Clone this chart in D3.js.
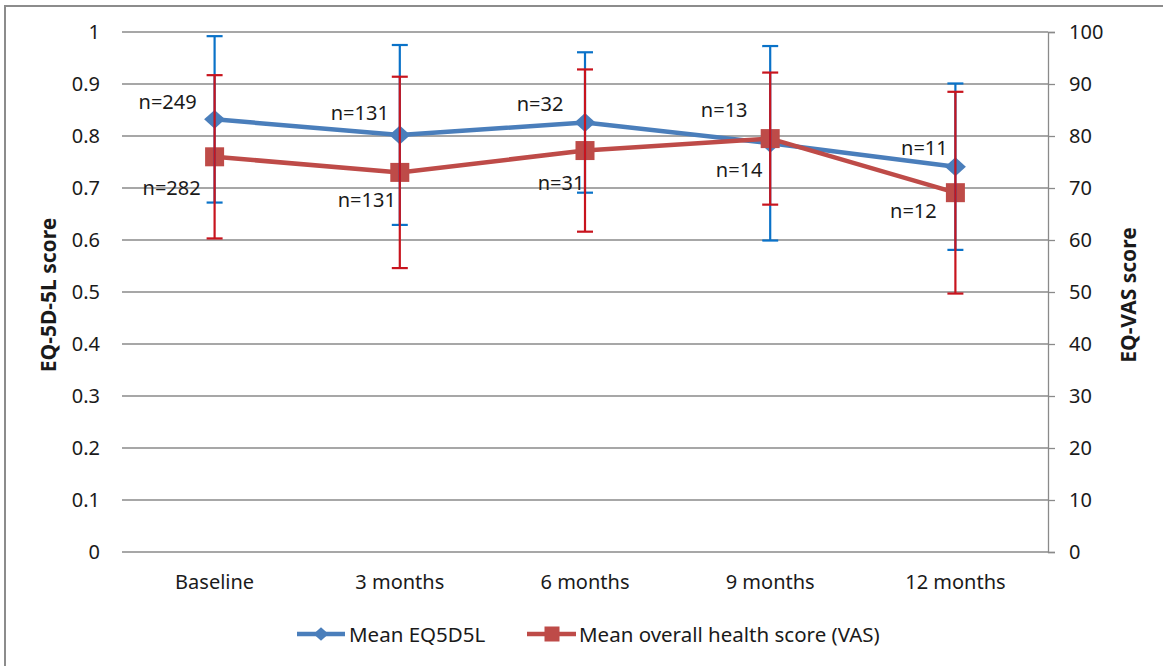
<!DOCTYPE html>
<html><head><meta charset="utf-8">
<script src="https://cdn.jsdelivr.net/npm/d3@7"></script>
<style>
html,body{margin:0;padding:0;background:#fff;}
svg{display:block;font-family:"Noto Sans","Open Sans",sans-serif;}
</style></head>
<body>
<svg id="chart" width="1163" height="666"></svg>
<script>
// ---- data ----
const categories = ["Baseline", "3 months", "6 months", "9 months", "12 months"];
const eqMean = [0.832, 0.802, 0.826, 0.786, 0.741];
const eqErr  = [0.160, 0.173, 0.135, 0.187, 0.160];
const eqN    = ["n=249", "n=131", "n=32", "n=13", "n=11"];
const vasMean = [76.0, 73.0, 77.2, 79.5, 69.1];
const vasErr  = [15.7, 18.4, 15.6, 12.7, 19.4];
const vasN    = ["n=282", "n=131", "n=31", "n=14", "n=12"];
const leftTicks  = [0, 0.1, 0.2, 0.3, 0.4, 0.5, 0.6, 0.7, 0.8, 0.9, 1];
const rightTicks = [0, 10, 20, 30, 40, 50, 60, 70, 80, 90, 100];
const seriesNames = ["Mean EQ5D5L", "Mean overall health score (VAS)"];

// label placement offsets (layout, px relative to point)
const eqLabelOff  = [[-47,-18],[-40,-22],[-45,-19],[-46,-34],[-31,-19]];
const vasLabelOff = [[-43,31],[-33,27],[-24,32],[-31,31],[-42,18]];

// ---- layout ----
const L = 122, R = 1048, T = 32, B = 552;
const blue = "#4a7ebb", red = "#be4b48", blueErr = "#0a72c8", redErr = "#c8141e";
const gridC = "#8a8a8a", txt = "#1a1a1a";

const svg = d3.select("#chart");

// outer frame
svg.append("rect").attr("x",5).attr("y",6).attr("width",1170).attr("height",670)
  .attr("fill","none").attr("stroke","#8c8c8c").attr("stroke-width",2);

const x = d3.scaleBand().domain(categories).range([L, R]).padding(0);
const cx = c => x(c) + x.bandwidth()/2;
const yL = d3.scaleLinear().domain([0,1]).range([B, T]);
const yR = d3.scaleLinear().domain([0,100]).range([B, T]);

// gridlines
svg.append("g").selectAll("line").data(leftTicks).join("line")
  .attr("x1", L).attr("x2", R)
  .attr("y1", d => yL(d)).attr("y2", d => yL(d))
  .attr("stroke", gridC).attr("stroke-width", 1.3);

// left axis
const gL = svg.append("g").attr("transform", `translate(${L},0)`)
  .call(d3.axisLeft(yL).tickValues(leftTicks).tickSize(0).tickPadding(22)
        .tickFormat(d => String(+d.toFixed(1))));
gL.select(".domain").remove();
gL.selectAll("text").attr("font-size", 20).attr("fill", txt)
  .attr("font-family", '"Noto Sans","Open Sans",sans-serif');

// right axis
const gR = svg.append("g").attr("transform", `translate(${R},0)`)
  .call(d3.axisRight(yR).tickValues(rightTicks).tickSize(7).tickSizeOuter(7).tickPadding(14)
        .tickFormat(d3.format("d")));
gR.select(".domain").attr("stroke", gridC).attr("stroke-width", 1.3);
gR.selectAll(".tick line").attr("stroke", gridC).attr("stroke-width", 1.3);
gR.selectAll("text").attr("font-size", 20).attr("fill", txt)
  .attr("font-family", '"Noto Sans","Open Sans",sans-serif');

// x axis labels
const gX = svg.append("g").attr("transform", `translate(0,${B})`)
  .call(d3.axisBottom(x).tickSize(0).tickPadding(23));
gX.select(".domain").remove();
gX.selectAll("text").attr("font-size", 20).attr("fill", txt)
  .attr("font-family", '"Noto Sans","Open Sans",sans-serif');

// axis titles
svg.append("text").attr("transform", `translate(56,295) rotate(-90)`)
  .attr("text-anchor","middle").attr("font-size",21).attr("font-weight","bold")
  .attr("fill", txt).text("EQ-5D-5L score");
svg.append("text").attr("transform", `translate(1136,295) rotate(-90)`)
  .attr("text-anchor","middle").attr("font-size",21).attr("font-weight","bold")
  .attr("fill", txt).text("EQ-VAS score");

// series data
const eqData = categories.map((c,i) => ({c, v: eqMean[i], e: eqErr[i], n: eqN[i], o: eqLabelOff[i]}));
const vasData = categories.map((c,i) => ({c, v: vasMean[i], e: vasErr[i], n: vasN[i], o: vasLabelOff[i]}));

const diamond = (s) => `M0,${-s*0.45}L${s/2},0L0,${s*0.45}L${-s/2},0Z`;

// blue line + markers
svg.append("path").datum(eqData)
  .attr("d", d3.line().x(d => cx(d.c)).y(d => yL(d.v)))
  .attr("fill","none").attr("stroke", blue).attr("stroke-width", 4.5).attr("stroke-linejoin","round");
svg.append("g").selectAll("path").data(eqData).join("path")
  .attr("transform", d => `translate(${cx(d.c)},${yL(d.v)})`)
  .attr("d", diamond(21)).attr("fill", blue);

// red line + markers
svg.append("path").datum(vasData)
  .attr("d", d3.line().x(d => cx(d.c)).y(d => yR(d.v)))
  .attr("fill","none").attr("stroke", red).attr("stroke-width", 4.5).attr("stroke-linejoin","round");
svg.append("g").selectAll("rect").data(vasData).join("rect")
  .attr("x", d => cx(d.c) - 9.5).attr("y", d => yR(d.v) - 9.5)
  .attr("width", 19).attr("height", 19).attr("fill", red);

// error bars
function errBars(data, y, color) {
  const g = svg.append("g").attr("stroke", color).attr("stroke-width", 2.2);
  data.forEach(d => {
    const xx = cx(d.c), hi = y(d.v + d.e), lo = y(d.v - d.e);
    g.append("line").attr("x1", xx).attr("x2", xx).attr("y1", hi).attr("y2", lo);
    g.append("line").attr("x1", xx-8).attr("x2", xx+8).attr("y1", hi).attr("y2", hi);
    g.append("line").attr("x1", xx-8).attr("x2", xx+8).attr("y1", lo).attr("y2", lo);
  });
}
errBars(eqData, yL, blueErr);
errBars(vasData, yR, redErr);

// n labels
svg.append("g").selectAll("text").data(eqData).join("text")
  .attr("x", d => cx(d.c) + d.o[0]).attr("y", d => yL(d.v) + d.o[1])
  .attr("text-anchor","middle").attr("dominant-baseline","central")
  .attr("font-size", 20).attr("fill", txt).text(d => d.n);
svg.append("g").selectAll("text").data(vasData).join("text")
  .attr("x", d => cx(d.c) + d.o[0]).attr("y", d => yR(d.v) + d.o[1])
  .attr("text-anchor","middle").attr("dominant-baseline","central")
  .attr("font-size", 20).attr("fill", txt).text(d => d.n);

// legend
const lg = svg.append("g").attr("transform","translate(0,634)");
lg.append("line").attr("x1",297).attr("x2",345).attr("y1",0).attr("y2",0)
  .attr("stroke", blue).attr("stroke-width", 4.5);
lg.append("path").attr("transform","translate(321,0)").attr("d", diamond(15)).attr("fill", blue);
lg.append("text").attr("x",349).attr("y",0).attr("dominant-baseline","central")
  .attr("font-size",20.5).attr("fill",txt).text(seriesNames[0]);
lg.append("line").attr("x1",527).attr("x2",576).attr("y1",0).attr("y2",0)
  .attr("stroke", red).attr("stroke-width", 4.5);
lg.append("rect").attr("x",552-7.5).attr("y",-7.5).attr("width",15).attr("height",15).attr("fill", red);
lg.append("text").attr("x",579).attr("y",0).attr("dominant-baseline","central")
  .attr("font-size",20.5).attr("fill",txt).text(seriesNames[1]);
</script>
</body></html>
